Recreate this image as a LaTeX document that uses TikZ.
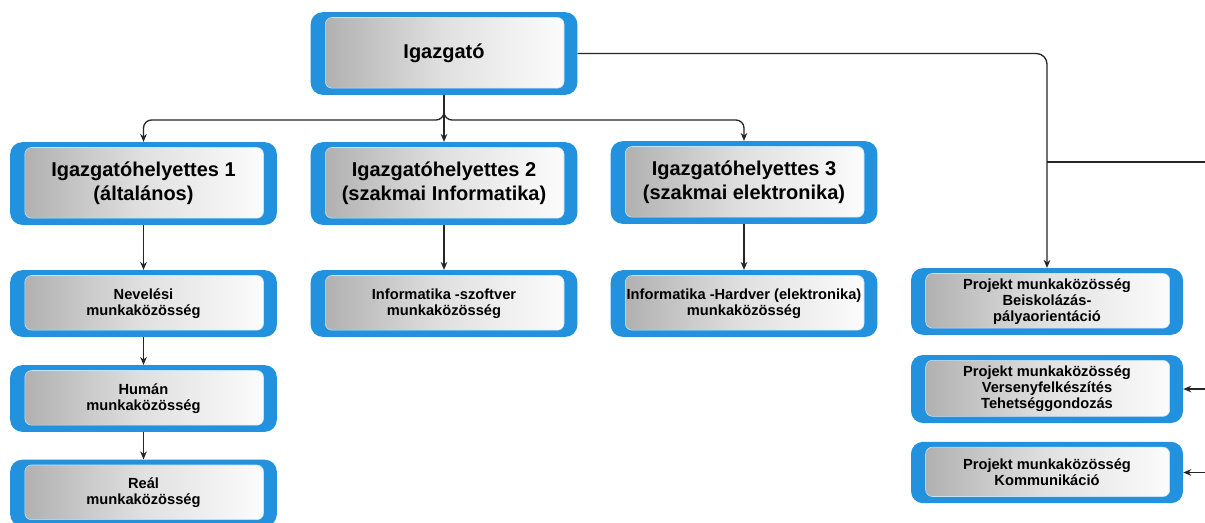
\documentclass[tikz,border=0pt]{standalone}
\usepackage{fontspec}
\setmainfont{Liberation Sans}
\usetikzlibrary{arrows.meta}
\definecolor{boxblue}{RGB}{34,146,222}

\tikzset{
  unit/.style={fill=boxblue, rounded corners=9pt, align=center, inner sep=0pt,
    path picture={\shade[left color=black!33, right color=white, middle color=black!12,
        draw=boxblue!25, rounded corners=5pt]
      ([shift={(11pt,-4pt)}]path picture bounding box.north west) rectangle
      ([shift={(-10pt,5pt)}]path picture bounding box.south east);}},
  big/.style={unit, minimum width=200pt, minimum height=62pt,
    font=\bfseries\fontsize{15}{18}\selectfont},
  small/.style={unit, minimum width=200pt, minimum height=50pt,
    font=\bfseries\fontsize{11}{12}\selectfont},
  link/.style={draw=black!85, line width=1pt, -{Stealth[length=6pt,width=5pt]}},
  rail/.style={draw=black!85, line width=1pt}
}

\begin{document}
\begin{tikzpicture}[x=0.75pt, y=-0.75pt]
	\useasboundingbox[fill=white] (0,0) rectangle (1205,522);
	%
	\node[big] (igaz) at (444,53.5) {Igazgató};
	\node[big] (vp1) at (143.5,183.5) {Igazgatóhelyettes 1\\(általános)};
	\node[big] (vp2) at (444,183.5) {Igazgatóhelyettes 2\\(szakmai Informatika)};
	\node[big] (vp3) at (744,182.5) {Igazgatóhelyettes 3\\(szakmai elektronika)};
	%
	\node[small] (nev) at (143.5,303.5) {Nevelési\\munkaközösség};
	\node[small] (hum) at (143.5,398.5) {Humán\\munkaközösség};
	\node[small] (real) at (143.5,493) {Reál\\munkaközösség};
	\node[small] (szoft) at (444,303.5) {Informatika -szoftver\\munkaközösség};
	\node[small] (hard) at (744,303.5) {Informatika -Hardver (elektronika)\\munkaközösség};
	%
	\node[small, minimum width=204pt] (proj1) at (1047,301.5) {Projekt munkaközösség\\Beiskolázás-\\pályaorientáció};
	\node[small, minimum width=204pt, minimum height=51pt] (proj2) at (1047,389) {Projekt munkaközösség\\Versenyfelkészítés\\Tehetséggondozás};
	\node[small, minimum width=204pt, minimum height=46pt] (proj3) at (1047,472.5) {Projekt munkaközösség\\Kommunikáció};
	%
	\coordinate (bus) at (444,120);
	\coordinate (join) at (proj1.north |- 0,162);
	\coordinate (redge) at (1210,162);
	%
	\draw[link] (igaz.south) -- (vp2.north);
	\draw[link, rounded corners=6pt] (igaz.south) -- (bus) -| (vp1.north);
	\draw[link, rounded corners=6pt] (igaz.south) -- (bus) -| (vp3.north);
	\draw[link, rounded corners=8pt] (igaz.east) -| (proj1.north);
	%
	\draw[link] (vp1) -- (nev);
	\draw[link] (nev) -- (hum);
	\draw[link] (hum) -- (real);
	\draw[link] (vp2) -- (szoft);
	\draw[link] (vp3) -- (hard);
	%
	\draw[rail] (join) -- (redge) -- (redge |- proj3.east);
	\draw[link] (redge |- proj2.east) -- (proj2.east);
	\draw[link] (redge |- proj3.east) -- (proj3.east);
\end{tikzpicture}
\end{document}
